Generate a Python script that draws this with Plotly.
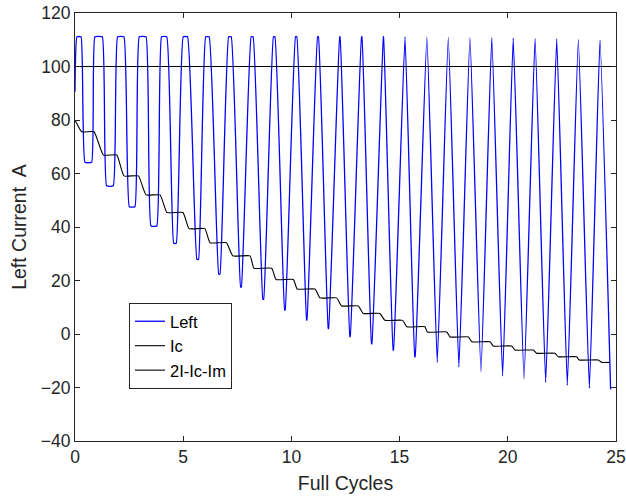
import plotly.graph_objects as go

# ---- data ----
# "Left" current: start value, then per-cycle peak plateau (start, end, value)
# and trough plateau (start, end, value)
left_start_x = 0.0
left_start_y = 90.6
peak_start = [0.09, 0.92, 1.97, 2.97, 4.00, 5.00, 6.04, 7.10, 8.14, 9.17, 10.19, 11.21, 12.23,
              13.24, 14.25, 15.25, 16.26, 17.25, 18.25, 19.26, 20.25, 21.26, 22.26, 23.26, 24.26]
peak_end = [0.28, 1.26, 2.26, 3.28, 4.24, 5.20, 6.20, 7.22, 8.23, 9.24, 10.25, 11.25, 12.25,
            13.26, 14.26, 15.25, 16.26, 17.25, 18.25, 19.26, 20.25, 21.26, 22.26, 23.26, 24.26]
peak_val = [111.1, 111.1, 111.1, 111.1, 111.1, 111.1, 111.1, 111.1, 111.1, 111.1, 111.1, 111.1, 111.1,
            111.1, 111.1, 111.1, 111.1, 110.9, 110.9, 110.8, 110.6, 110.5, 110.4, 110.1, 109.9]
trough_start = [0.46, 1.46, 2.51, 3.51, 4.56, 5.63, 6.64, 7.65, 8.68, 9.685, 10.70, 11.70, 12.70,
                13.70, 14.70, 15.70, 16.74, 17.74, 18.76, 19.76, 20.75, 21.75, 22.75, 23.77, 24.75]
trough_end = [0.77, 1.77, 2.77, 3.78, 4.68, 5.71, 6.70, 7.69, 8.72, 9.715, 10.72, 11.72, 12.72,
              13.72, 14.72, 15.72, 16.74, 17.74, 18.76, 19.76, 20.75, 21.75, 22.75, 23.77, 24.75]
trough_val = [64.2, 55.4, 47.6, 40.4, 33.9, 27.9, 22.4, 17.6, 13.0, 9.0, 5.2, 2.0, -1.0,
              -3.7, -6.0, -8.5, -10.6, -12.4, -14.1, -15.7, -16.9, -18.2, -19.2, -20.3, -20.7]

# "Ic": constant level
ic_x = [0, 25]
ic_y = [100, 100]

# "2I-Ic-Im": staircase levels with the start and end of each flat step
step_level = [80.0, 75.6, 66.9, 59.1, 52.0, 45.4, 39.4, 34.1, 29.2, 24.6, 20.4, 16.8, 13.5,
              10.5, 7.7, 5.1, 2.7, 0.75, -1.1, -2.9, -4.5, -6.0, -7.2, -8.5, -9.7, -10.6]
step_start = [0.0, 0.31, 1.31, 2.26, 3.28, 4.25, 5.27, 6.24, 7.29, 8.27, 9.29, 10.27, 11.32,
              12.32, 13.32, 14.32, 15.33, 16.28, 17.33, 18.33, 19.33, 20.33, 21.33, 22.33, 23.30, 24.34]
step_end = [0.0, 0.88, 1.93, 2.93, 3.93, 4.99, 6.00, 7.00, 8.09, 9.09, 10.09, 11.09, 12.09,
            13.09, 14.09, 15.14, 16.17, 17.18, 18.18, 19.18, 20.18, 21.18, 22.18, 23.18, 24.18, 24.72]

x_ticks = [0, 5, 10, 15, 20, 25]
y_ticks = [-40, -20, 0, 20, 40, 60, 80, 100, 120]

# ---- build vertex lists from the read values ----
lx, ly = [left_start_x], [left_start_y]
for ps, pe, pv, ts, te, tv in zip(peak_start, peak_end, peak_val, trough_start, trough_end, trough_val):
    lx.append(ps); ly.append(pv)
    if pe > ps:
        lx.append(pe); ly.append(pv)
    lx.append(ts); ly.append(tv)
    if te > ts:
        lx.append(te); ly.append(tv)

sx, sy = [], []
for s, e, v in zip(step_start, step_end, step_level):
    sx.append(s); sy.append(v)
    if e > s:
        sx.append(e); sy.append(v)

FONT = "Liberation Sans, Arial, sans-serif"

fig = go.Figure()
fig.add_trace(go.Scatter(x=lx, y=ly, mode="lines", name="Left",
                         line=dict(color="#0000FF", width=1.3, shape="spline", smoothing=0.35)))
fig.add_trace(go.Scatter(x=ic_x, y=ic_y, mode="lines", name="Ic",
                         line=dict(color="#000000", width=1.1)))
fig.add_trace(go.Scatter(x=sx, y=sy, mode="lines", name="2I-Ic-Im",
                         line=dict(color="#000000", width=1.1, shape="spline", smoothing=0.4)))

axis_common = dict(showline=True, linecolor="#262626", linewidth=1, mirror="ticks",
                   ticks="inside", ticklen=5, tickcolor="#262626", tickwidth=1,
                   showgrid=False, zeroline=False, automargin=False,
                   tickfont=dict(family=FONT, size=17.5, color="#262626"))

fig.update_layout(
    width=626, height=497,
    margin=dict(l=75, r=10, t=13, b=56, autoexpand=False),
    plot_bgcolor="white", paper_bgcolor="white",
    font=dict(family=FONT, color="#262626"),
    legend=dict(x=0.0998, y=0.3224, xanchor="left", yanchor="top",
                bgcolor="white", bordercolor="#262626", borderwidth=1,
                font=dict(family=FONT, size=16.5, color="#000000"),
                tracegroupgap=0),
    xaxis=dict(range=[0, 25], tickvals=x_ticks, **axis_common,
               title=dict(text="Full Cycles", standoff=10,
                          font=dict(family=FONT, size=19.5, color="#262626"))),
    yaxis=dict(range=[-40, 120], tickvals=y_ticks, **axis_common,
               title=dict(text="Left Current  A", standoff=8,
                          font=dict(family=FONT, size=19.5, color="#262626"))),
)

fig.write_html("out.html")
